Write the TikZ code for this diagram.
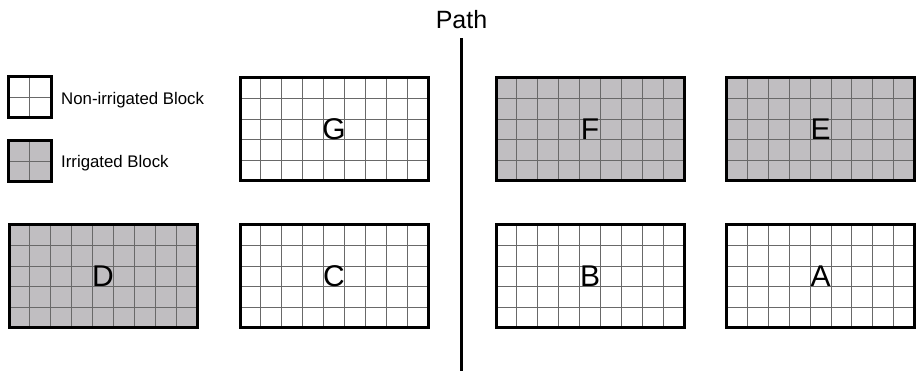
\documentclass[tikz,border=0pt]{standalone}
\usepackage{fontspec}
\setmainfont{Liberation Sans}
\usetikzlibrary{calc}
\definecolor{irr}{RGB}{192,190,193}
\definecolor{gridc}{RGB}{105,105,105}
\tikzset{
  gridline/.style={draw=gridc, line width=0.9pt},
  cellgrid/.style 2 args={path picture={
    \foreach \i in {1,...,#1}
      \draw[gridline]
        ($(path picture bounding box.south west)!{\i/(#1+1)}!(path picture bounding box.south east)$) --
        ($(path picture bounding box.north west)!{\i/(#1+1)}!(path picture bounding box.north east)$);
    \foreach \j in {1,...,#2}
      \draw[gridline]
        ($(path picture bounding box.south west)!{\j/(#2+1)}!(path picture bounding box.north west)$) --
        ($(path picture bounding box.south east)!{\j/(#2+1)}!(path picture bounding box.north east)$);
  }},
  blockbox/.style={draw=black, line width=3pt, minimum width=188pt, minimum height=103pt,
    inner sep=0pt, outer sep=0pt, cellgrid={8}{4}, font=\fontsize{30}{36}\selectfont},
  legendbox/.style={draw=black, line width=3pt, minimum width=43pt, minimum height=41pt,
    inner sep=0pt, outer sep=0pt, cellgrid={1}{1}},
  legendtext/.style={anchor=base west, inner sep=0pt, font=\fontsize{16.8}{20}\selectfont},
  pathline/.style={draw=black, line width=3pt},
}
\begin{document}
\begin{tikzpicture}[x=1pt, y=-1pt]
\useasboundingbox (0,0) rectangle (916,371);
% legend
\node[legendbox, fill=white] (legnon) at (29.5,97.5) {};
\node[legendbox, fill=irr] (legirr) at (29.5,161) {};
\node[legendtext] (legnontxt) at (61,104.3) {Non-irrigated Block};
\node[legendtext] (legirrtxt) at (61,167.3) {Irrigated Block};
% blocks
\node[blockbox, fill=white] (G) at (334,129.5) {G};
\node[blockbox, fill=irr]   (F) at (590,129.5) {F};
\node[blockbox, fill=irr]   (E) at (820.5,129.5) {E};
\node[blockbox, fill=irr]   (D) at (103,276.5) {D};
\node[blockbox, fill=white] (C) at (334,276.5) {C};
\node[blockbox, fill=white] (B) at (590,276.5) {B};
\node[blockbox, fill=white] (A) at (820.5,276.5) {A};
% path
\node[anchor=base, inner sep=0pt, font=\fontsize{25}{30}\selectfont] (pathlbl) at (461.5,28.3) {Path};
\coordinate (pathend) at (461.5,371);
\draw[pathline] ($(pathlbl.base)+(0,10)$) -- (pathend);
\end{tikzpicture}
\end{document}
